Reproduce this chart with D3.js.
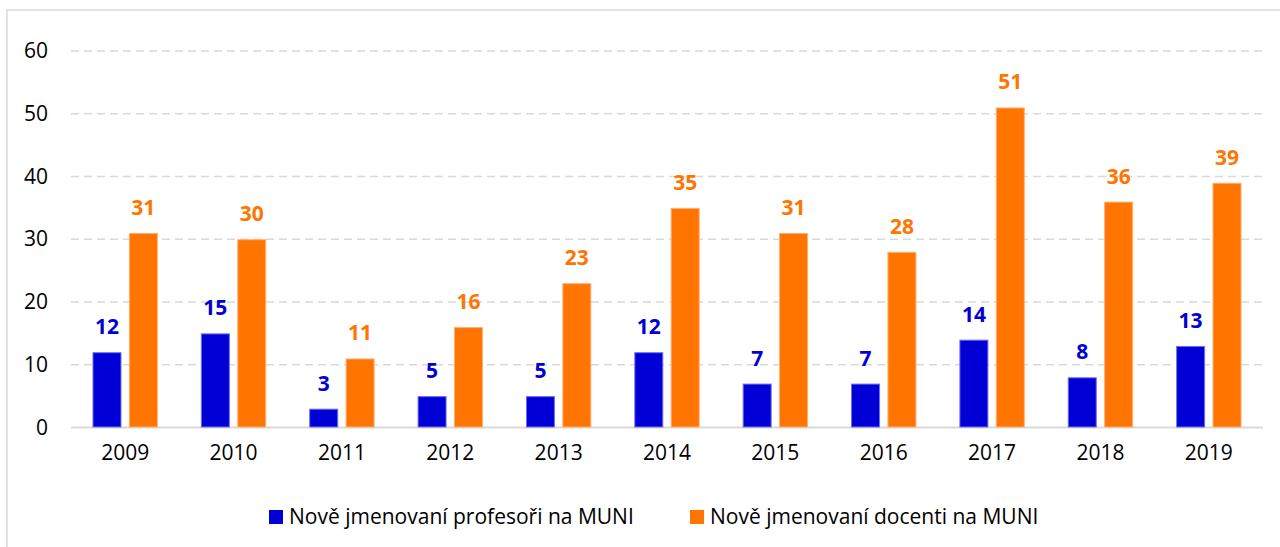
<!DOCTYPE html>
<html>
<head>
<meta charset="utf-8">
<script src="https://cdn.jsdelivr.net/npm/d3@7"></script>
<style>
  html, body { margin: 0; padding: 0; background: #fff; }
  svg { display: block; font-family: "Open Sans", "Noto Sans", sans-serif; }
</style>
</head>
<body>
<svg id="chart" width="1280" height="547"></svg>
<script>
// data
const years = ["2009", "2010", "2011", "2012", "2013", "2014", "2015", "2016", "2017", "2018", "2019"];
const profesori = [12, 15, 3, 5, 5, 12, 7, 7, 14, 8, 13];
const docenti = [31, 30, 11, 16, 23, 35, 31, 28, 51, 36, 39];
const seriesNames = ["Nově jmenovaní profesoři na MUNI", "Nově jmenovaní docenti na MUNI"];
const yTicks = [0, 10, 20, 30, 40, 50, 60];

const colors = ["#0000d6", "#ff7500"];
const outline = ["#6f6ff0", "#ffae75"];

const svg = d3.select("#chart");
const plot = { left: 71, right: 1263, top: 51, bottom: 427.5 };

// frame (top and left edges only are visible)
svg.append("path")
  .attr("d", "M7,547V10H1280")
  .attr("fill", "none")
  .attr("stroke", "#d9d9d9")
  .attr("stroke-width", 1.5);

const y = d3.scaleLinear().domain([0, 60]).range([plot.bottom, plot.top]);

const x0 = d3.scaleBand()
  .domain(years)
  .range([plot.left, plot.right])
  .paddingInner(0.3965)
  .paddingOuter(0.19825);

const x1 = d3.scaleBand()
  .domain([0, 1])
  .range([0, x0.bandwidth()])
  .paddingInner(0.203);

// gridlines
svg.append("g")
  .selectAll("line")
  .data(yTicks.filter((d) => d > 0))
  .join("line")
  .attr("x1", plot.left)
  .attr("x2", plot.right)
  .attr("y1", (d) => y(d))
  .attr("y2", (d) => y(d))
  .attr("stroke", "#d9d9d9")
  .attr("stroke-width", 1.5)
  .attr("stroke-dasharray", "8,5");

// y axis labels
svg.append("g")
  .attr("transform", "translate(48,0)")
  .call(d3.axisLeft(y).tickValues(yTicks).tickSize(0).tickPadding(0))
  .call((g) => g.select(".domain").remove())
  .call((g) => g.selectAll("text")
    .attr("fill", "#000")
    .style("font-size", "21px")
    .style("font-family", "'Open Sans', sans-serif"));

// baseline
svg.append("line")
  .attr("x1", plot.left)
  .attr("x2", plot.right)
  .attr("y1", y(0))
  .attr("y2", y(0))
  .attr("stroke", "#d9d9d9")
  .attr("stroke-width", 2);

// x axis labels
svg.append("g")
  .attr("transform", `translate(0,${y(0)})`)
  .call(d3.axisBottom(x0).tickSize(0).tickPadding(18))
  .call((g) => g.select(".domain").remove())
  .call((g) => g.selectAll("text")
    .attr("fill", "#000")
    .style("font-size", "21px")
    .style("font-family", "'Open Sans', sans-serif"));

// bars + value labels
const rows = years.map((yr, i) => ({ year: yr, values: [profesori[i], docenti[i]] }));

const groups = svg.append("g")
  .selectAll("g")
  .data(rows)
  .join("g")
  .attr("transform", (d) => `translate(${x0(d.year)},0)`);

groups.selectAll("rect")
  .data((d) => d.values.map((v, s) => ({ s, v })))
  .join("rect")
  .attr("x", (d) => x1(d.s) + 0.5)
  .attr("y", (d) => y(d.v) + 0.5)
  .attr("width", x1.bandwidth() - 1)
  .attr("height", (d) => y(0) - y(d.v) - 1)
  .attr("fill", (d) => colors[d.s])
  .attr("stroke", (d) => outline[d.s])
  .attr("stroke-width", 1);

groups.selectAll("text")
  .data((d) => d.values.map((v, s) => ({ s, v })))
  .join("text")
  .attr("x", (d) => x1(d.s) + x1.bandwidth() / 2)
  .attr("y", (d) => y(d.v) - 18)
  .attr("text-anchor", "middle")
  .attr("fill", (d) => colors[d.s])
  .style("font-size", "21px")
  .style("font-weight", "bold")
  .text((d) => d.v);

// legend
const legendX = [269, 690];
const legend = svg.append("g")
  .selectAll("g")
  .data(seriesNames)
  .join("g")
  .attr("transform", (d, i) => `translate(${legendX[i]},510)`);

legend.append("rect")
  .attr("width", 14)
  .attr("height", 14)
  .attr("fill", (d, i) => colors[i]);

legend.append("text")
  .attr("x", 20)
  .attr("y", 14)
  .attr("fill", "#000")
  .style("font-size", "21px")
  .text((d) => d);
</script>
</body>
</html>
